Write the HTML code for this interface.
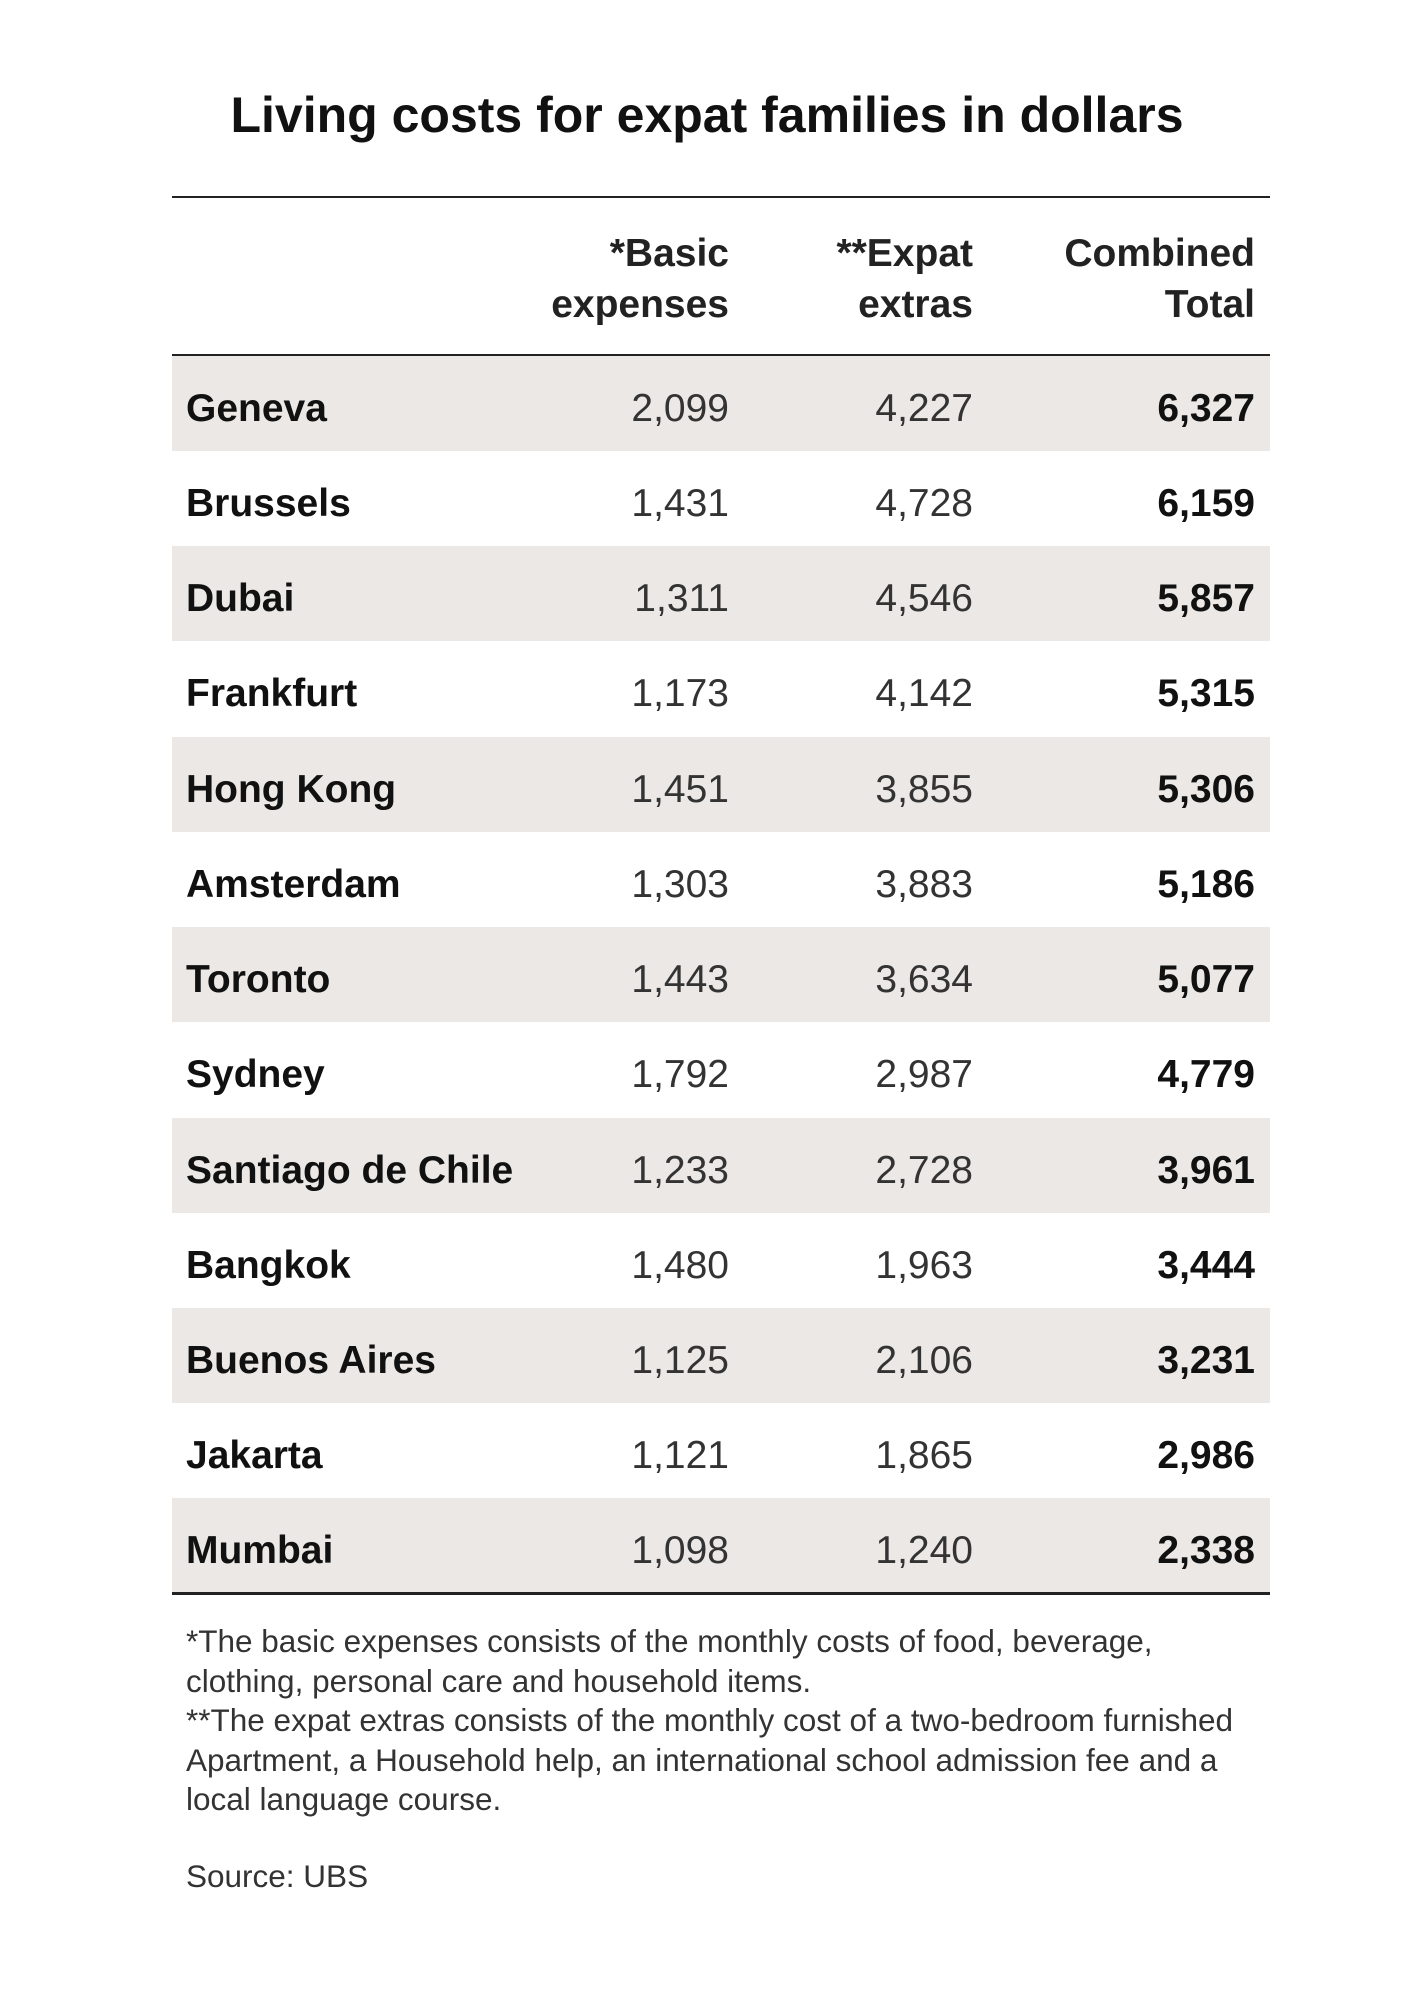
<!DOCTYPE html>
<html><head><meta charset="utf-8"><style>
body{margin:0;width:1414px;height:2000px;background:#fff;font-family:"Liberation Sans",sans-serif;color:#111;position:relative;overflow:hidden}
.t{position:absolute;white-space:nowrap}
.title{left:0;width:1414px;text-align:center;top:86px;font-size:50px;font-weight:bold}
.line{position:absolute;left:172px;width:1098px;height:2px;background:#222}
.row{position:absolute;left:172px;width:1098px;height:95px}
.sh{background:#ebe8e5}
.nm{position:absolute;left:14px;font-weight:bold;font-size:39px;top:31px}
.c{position:absolute;font-size:39px;top:31px;text-align:right;color:#333}
.c1{right:541px}.c2{right:297px}.c3{right:15px;font-weight:bold;color:#111}
.h{position:absolute;font-weight:bold;font-size:39px;text-align:right;line-height:51px;top:228px;color:#222}
.fn{position:absolute;left:186px;font-size:31.5px;line-height:39.5px;top:1622px;color:#333}
</style></head><body>
<div class="t title">Living costs for expat families in dollars</div>
<div class="line" style="top:196px"></div>
<div class="h" style="right:685px">*Basic<br>expenses</div>
<div class="h" style="right:441px">**Expat<br>extras</div>
<div class="h" style="right:159px">Combined<br>Total</div>
<div class="line" style="top:354px"></div>

<div class="row sh" style="top:356px"><span class="nm">Geneva</span><span class="c c1">2,099</span><span class="c c2">4,227</span><span class="c c3">6,327</span></div>
<div class="row" style="top:451px"><span class="nm">Brussels</span><span class="c c1">1,431</span><span class="c c2">4,728</span><span class="c c3">6,159</span></div>
<div class="row sh" style="top:546px"><span class="nm">Dubai</span><span class="c c1">1,311</span><span class="c c2">4,546</span><span class="c c3">5,857</span></div>
<div class="row" style="top:641px"><span class="nm">Frankfurt</span><span class="c c1">1,173</span><span class="c c2">4,142</span><span class="c c3">5,315</span></div>
<div class="row sh" style="top:737px"><span class="nm">Hong Kong</span><span class="c c1">1,451</span><span class="c c2">3,855</span><span class="c c3">5,306</span></div>
<div class="row" style="top:832px"><span class="nm">Amsterdam</span><span class="c c1">1,303</span><span class="c c2">3,883</span><span class="c c3">5,186</span></div>
<div class="row sh" style="top:927px"><span class="nm">Toronto</span><span class="c c1">1,443</span><span class="c c2">3,634</span><span class="c c3">5,077</span></div>
<div class="row" style="top:1022px"><span class="nm">Sydney</span><span class="c c1">1,792</span><span class="c c2">2,987</span><span class="c c3">4,779</span></div>
<div class="row sh" style="top:1118px"><span class="nm">Santiago de Chile</span><span class="c c1">1,233</span><span class="c c2">2,728</span><span class="c c3">3,961</span></div>
<div class="row" style="top:1213px"><span class="nm">Bangkok</span><span class="c c1">1,480</span><span class="c c2">1,963</span><span class="c c3">3,444</span></div>
<div class="row sh" style="top:1308px"><span class="nm">Buenos Aires</span><span class="c c1">1,125</span><span class="c c2">2,106</span><span class="c c3">3,231</span></div>
<div class="row" style="top:1403px"><span class="nm">Jakarta</span><span class="c c1">1,121</span><span class="c c2">1,865</span><span class="c c3">2,986</span></div>
<div class="row sh" style="top:1498px"><span class="nm">Mumbai</span><span class="c c1">1,098</span><span class="c c2">1,240</span><span class="c c3">2,338</span></div>
<div class="line" style="top:1592px;height:3px"></div>

<div class="fn">*The basic expenses consists of the monthly costs of food, beverage,<br>clothing, personal care and household items.<br>**The expat extras consists of the monthly cost of a two-bedroom furnished<br>Apartment, a Household help, an international school admission fee and a<br>local language course.</div>
<div class="t" style="left:186px;top:1858px;font-size:31.5px;color:#333">Source: UBS</div>
</body></html>
